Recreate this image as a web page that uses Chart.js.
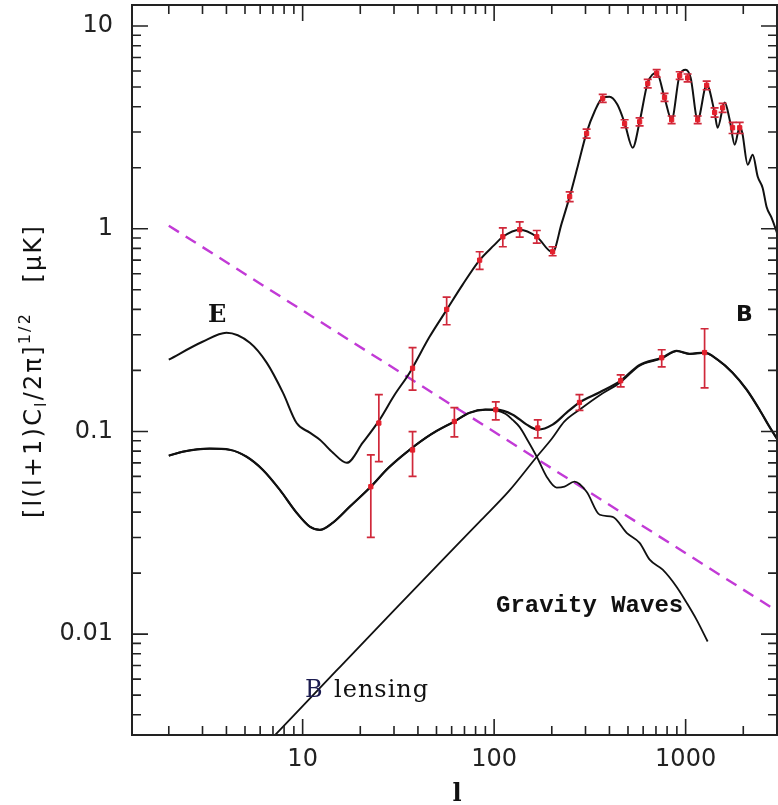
<!DOCTYPE html>
<html><head><meta charset="utf-8">
<script src="https://cdn.jsdelivr.net/npm/chart.js@4/dist/chart.umd.min.js"></script>
<style>html,body{margin:0;padding:0;background:#fff;}canvas{display:block;}</style>
</head><body>
<canvas id="c" width="778" height="805"></canvas>
<script>
// ---- E-mode polarization model curve ----
const eEll = [2, 3, 4, 5.3, 6.5, 7.9, 9.3, 10.9, 12.3, 14.4, 17, 20.6, 25.2, 30, 36.2, 46, 56.5, 68.5, 84, 100, 111, 136, 167, 202, 225, 248, 275, 304, 335, 369, 400, 440, 480, 529, 575, 634, 706, 776, 845, 931, 1000, 1062, 1156, 1288, 1417, 1469, 1600, 1698, 1804, 1916, 1975, 2110, 2240, 2378, 2525, 2648, 2812, 3000];
const eVal = [0.226, 0.277, 0.307, 0.274, 0.218, 0.155, 0.110, 0.0986, 0.091, 0.0785, 0.070, 0.088, 0.114, 0.150, 0.195, 0.293, 0.398, 0.53, 0.70, 0.83, 0.913, 0.99, 0.913, 0.765, 1.06, 1.44, 2.08, 2.98, 3.8, 4.43, 4.48, 4.1, 3.33, 2.51, 3.37, 5.25, 5.89, 4.43, 3.45, 5.75, 6.09, 5.56, 3.45, 5.13, 3.74, 3.15, 4.19, 3.45, 2.6, 3.18, 2.98, 2.07, 2.32, 1.81, 1.59, 1.28, 1.13, 0.955];

// ---- B-mode from gravity waves ----
const gwEll = [2, 2.36, 3.27, 4.16, 5.1, 6.19, 7.59, 9.3, 10.9, 12.3, 14.4, 17.6, 22.7, 28, 36.2, 47, 62, 74.5, 90, 102, 115, 125, 136, 150, 167, 188, 212, 233, 263, 304, 356, 416, 492, 575, 649, 759, 898, 1012, 1140, 1303];
const gwVal = [0.0759, 0.0794, 0.0822, 0.0812, 0.075, 0.0647, 0.0516, 0.0397, 0.0339, 0.0327, 0.0355, 0.0425, 0.0534, 0.066, 0.0812, 0.097, 0.112, 0.1237, 0.128, 0.127, 0.122, 0.114, 0.105, 0.09, 0.075, 0.0598, 0.0528, 0.0534, 0.0565, 0.0504, 0.0388, 0.0379, 0.0316, 0.0282, 0.0233, 0.0208, 0.0171, 0.0143, 0.0118, 0.0092];

// ---- Total B-mode (gravity waves + lensing) ----
const bEll = [2, 2.36, 3.27, 4.16, 5.1, 6.19, 7.59, 9.3, 10.9, 12.3, 14.4, 17.6, 22.7, 28, 36.2, 47, 62, 74.5, 90, 102, 125, 148, 169, 202, 239, 279, 356, 458, 575, 750, 898, 1049, 1256, 1469, 1758, 2080, 2432, 2748, 3000];
const bVal = [0.0759, 0.0794, 0.0822, 0.0812, 0.075, 0.0647, 0.0516, 0.0397, 0.0339, 0.0327, 0.0355, 0.0425, 0.0534, 0.066, 0.0812, 0.097, 0.112, 0.1237, 0.128, 0.128, 0.121, 0.108, 0.102, 0.108, 0.1237, 0.139, 0.156, 0.178, 0.213, 0.231, 0.25, 0.2416, 0.245, 0.226, 0.195, 0.161, 0.128, 0.105, 0.092];

// ---- B-mode from lensing ----
const lensEll = [7, 15, 30, 52, 86, 120, 167, 200, 233, 279, 356, 458, 575, 750, 898, 1049, 1256, 1469, 1758, 2080, 2432, 2748, 3000];
const lensVal = [0.0031, 0.0066, 0.0131, 0.0225, 0.0367, 0.051, 0.075, 0.092, 0.112, 0.128, 0.151, 0.175, 0.211, 0.229, 0.249, 0.241, 0.244, 0.226, 0.195, 0.161, 0.128, 0.105, 0.092];

// ---- foreground (dashed) ----
const fgEll = [2, 3000];
const fgVal = [1.035, 0.013];

// ---- simulated E data with errors ----
const eDataEll = [25, 37.5, 56.5, 84, 111, 136, 167, 202, 248, 304, 369, 480, 575, 634, 706, 776, 845, 931, 1024, 1156, 1288, 1417, 1560, 1758, 1916];
const eDataVal = [0.110, 0.205, 0.40, 0.70, 0.913, 0.99, 0.913, 0.77, 1.44, 2.95, 4.4, 3.3, 3.37, 5.2, 5.85, 4.45, 3.45, 5.7, 5.55, 3.45, 5.1, 3.75, 3.95, 3.15, 3.15];
const eDataLo  = [0.071, 0.16, 0.336, 0.63, 0.815, 0.91, 0.85, 0.736, 1.36, 2.8, 4.2, 3.15, 3.22, 4.95, 5.6, 4.25, 3.3, 5.45, 5.3, 3.3, 4.85, 3.55, 3.75, 2.95, 2.95];
const eDataHi  = [0.152, 0.259, 0.46, 0.77, 1.01, 1.08, 0.98, 0.815, 1.52, 3.1, 4.6, 3.45, 3.52, 5.45, 6.1, 4.65, 3.6, 5.95, 5.8, 3.6, 5.35, 3.95, 4.15, 3.35, 3.35];

// ---- simulated B data with errors ----
const bDataEll = [22.7, 37.5, 62, 102, 169, 279, 458, 750, 1256];
const bDataVal = [0.0534, 0.081, 0.112, 0.128, 0.104, 0.139, 0.178, 0.231, 0.245];
const bDataLo  = [0.030, 0.060, 0.094, 0.114, 0.093, 0.127, 0.166, 0.208, 0.164];
const bDataHi  = [0.0767, 0.0997, 0.131, 0.140, 0.114, 0.152, 0.190, 0.253, 0.321];

// ---- axes ----
const xMin = 1.285, xMax = 3000, yMin = 0.00318, yMax = 12.7;
const xMajorTicks = [10, 100, 1000];
const xTickLabels = ['10', '100', '1000'];
const yMajorTicks = [0.01, 0.1, 1, 10];
const yTickLabels = ['0.01', '0.1', '1', '10'];

function pts(xs, ys) { return xs.map((x, i) => ({x: x, y: ys[i]})); }
function labelFor(v, majors, labels) {
  for (let i = 0; i < majors.length; i++) {
    if (Math.abs(v / majors[i] - 1) < 1e-6) return labels[i];
  }
  return '';
}

const RED = '#e3202c';
const BAR = '#d0283a';

const errorPlugin = {
  id: 'errbars',
  afterDatasetDraw(chart, args) {
    if (args.index !== 2) return;
    const ctx = chart.ctx, xs = chart.scales.x, ys = chart.scales.y;
    ctx.save();
    ctx.strokeStyle = BAR; ctx.lineWidth = 1.7;
    const draw = (L, lo, hi) => {
      for (let i = 0; i < L.length; i++) {
        const px = xs.getPixelForValue(L[i]);
        const p1 = ys.getPixelForValue(lo[i]);
        const p2 = ys.getPixelForValue(hi[i]);
        ctx.beginPath();
        ctx.moveTo(px, p1); ctx.lineTo(px, p2);
        ctx.moveTo(px - 4, p1); ctx.lineTo(px + 4, p1);
        ctx.moveTo(px - 4, p2); ctx.lineTo(px + 4, p2);
        ctx.stroke();
      }
    };
    draw(eDataEll, eDataLo, eDataHi);
    draw(bDataEll, bDataLo, bDataHi);
    ctx.restore();
  }
};

const framePlugin = {
  id: 'frame',
  afterDraw(chart) {
    const ctx = chart.ctx, a = chart.chartArea, xs = chart.scales.x, ys = chart.scales.y;
    ctx.save();
    ctx.strokeStyle = '#222';
    ctx.lineWidth = 2;
    ctx.strokeRect(a.left, a.top, a.right - a.left, a.bottom - a.top);
    ctx.lineWidth = 1.6;
    ctx.beginPath();
    for (let e = 0; e <= 3; e++) {
      for (let m = 1; m <= 9; m++) {
        const v = m * Math.pow(10, e);
        if (v <= xMin || v >= xMax) continue;
        const px = xs.getPixelForValue(v);
        const len = (m === 1) ? 16 : 9;
        ctx.moveTo(px, a.bottom); ctx.lineTo(px, a.bottom - len);
        ctx.moveTo(px, a.top); ctx.lineTo(px, a.top + len);
      }
    }
    for (let e = -3; e <= 1; e++) {
      for (let m = 1; m <= 9; m++) {
        const v = m * Math.pow(10, e);
        if (v <= yMin || v >= yMax) continue;
        const py = ys.getPixelForValue(v);
        const len = (m === 1) ? 16 : 9;
        ctx.moveTo(a.left, py); ctx.lineTo(a.left + len, py);
        ctx.moveTo(a.right, py); ctx.lineTo(a.right - len, py);
      }
    }
    ctx.stroke();

    // annotations
    ctx.fillStyle = '#111';
    ctx.textBaseline = 'alphabetic';
    ctx.textAlign = 'left';
    ctx.font = 'bold 24px "DejaVu Serif"';
    ctx.fillText('E', 208, 322);
    ctx.font = 'bold 22px "DejaVu Sans"';
    ctx.fillText('B', 736, 321);
    ctx.font = 'bold 24px "Liberation Mono"';
    ctx.fillText('Gravity Waves', 496, 612);
    ctx.font = '24px "DejaVu Serif"';
    ctx.letterSpacing = '1px';
    ctx.fillStyle = '#1c1c50';
    ctx.fillText('B', 305, 697);
    ctx.fillStyle = '#111';
    ctx.fillText('lensing', 334, 697);
    ctx.letterSpacing = '0px';

    // x title
    ctx.font = 'bold 24px "DejaVu Serif"';
    ctx.textAlign = 'center';
    ctx.fillText('l', 457, 801);

    // y title (rotated, with sub/superscripts)
    ctx.translate(41, 371);
    ctx.rotate(-Math.PI / 2);
    ctx.textAlign = 'left';
    ctx.letterSpacing = '2.2px';
    const segs = [
      {t: '[l(l+1)C', s: 24, dy: 0},
      {t: 'l', s: 16, dy: 5},
      {t: '/2\u03c0]', s: 24, dy: 0},
      {t: '1/2', s: 16, dy: -11},
      {t: '   [\u03bcK]', s: 24, dy: 0}
    ];
    let total = 0;
    segs.forEach(sg => { ctx.font = sg.s + 'px "DejaVu Sans"'; sg.w = ctx.measureText(sg.t).width; total += sg.w; });
    let x0 = -total / 2;
    segs.forEach(sg => { ctx.font = sg.s + 'px "DejaVu Sans"'; ctx.fillText(sg.t, x0, sg.dy); x0 += sg.w; });
    ctx.restore();
  }
};

const lineBase = {showLine: true, pointRadius: 0, fill: false, cubicInterpolationMode: 'monotone', borderColor: '#111'};

new Chart(document.getElementById('c'), {
  type: 'scatter',
  data: {
    datasets: [
      {data: pts(eDataEll, eDataVal), showLine: false, pointStyle: 'rect', pointRadius: 3, backgroundColor: RED, borderColor: RED, borderWidth: 1},
      {data: pts(bDataEll, bDataVal), showLine: false, pointStyle: 'rect', pointRadius: 3, backgroundColor: RED, borderColor: RED, borderWidth: 1},
      Object.assign({}, lineBase, {data: pts(eEll, eVal), borderWidth: 2}),
      Object.assign({}, lineBase, {data: pts(bEll, bVal), borderWidth: 2.2}),
      Object.assign({}, lineBase, {data: pts(gwEll, gwVal), borderWidth: 1.8}),
      Object.assign({}, lineBase, {data: pts(lensEll, lensVal), borderWidth: 1.8}),
      {data: pts(fgEll, fgVal), showLine: true, pointRadius: 0, borderColor: '#c23ad6', borderWidth: 2.4, borderDash: [12, 8]}
    ]
  },
  options: {
    responsive: false,
    animation: false,
    devicePixelRatio: 1,
    layout: {autoPadding: false, padding: {top: 5, right: 1, left: 0, bottom: 0}},
    plugins: {legend: {display: false}, tooltip: {enabled: false}},
    scales: {
      x: {
        type: 'logarithmic', min: xMin, max: xMax,
        grid: {display: false, drawTicks: false},
        border: {display: false},
        ticks: {autoSkip: false, maxRotation: 0, padding: 10, color: '#222', font: {family: 'DejaVu Sans', size: 24},
          callback: (v) => labelFor(v, xMajorTicks, xTickLabels)},
        afterFit: (s) => { s.height = 70; s.paddingLeft = 0; s.paddingRight = 0; }
      },
      y: {
        type: 'logarithmic', min: yMin, max: yMax,
        grid: {display: false, drawTicks: false},
        border: {display: false},
        ticks: {autoSkip: false, padding: 19, color: '#222', font: {family: 'DejaVu Sans', size: 24},
          callback: (v) => labelFor(v, yMajorTicks, yTickLabels)},
        afterFit: (s) => { s.width = 132; s.paddingTop = 0; s.paddingBottom = 0; }
      }
    }
  },
  plugins: [errorPlugin, framePlugin]
});
</script>
</body></html>
